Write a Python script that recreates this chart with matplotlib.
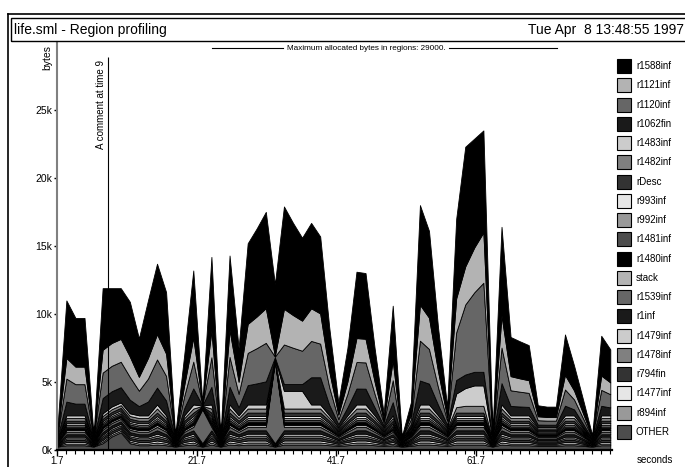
import matplotlib
matplotlib.use("Agg")
import matplotlib.pyplot as plt
from matplotlib.patches import Rectangle
from matplotlib.lines import Line2D

plt.rcParams['font.family'] = ['Liberation Sans', 'DejaVu Sans']

# sample times (seconds)
TIMES = [1.7, 3.0, 4.3, 5.6, 6.9, 8.2, 9.5, 10.8, 12.1, 13.4,
         14.7, 16.0, 17.3, 18.6, 19.9, 21.2, 22.5, 23.8, 25.1, 26.4,
         27.7, 29.0, 30.3, 31.6, 32.9, 34.2, 35.5, 36.8, 38.1, 39.4,
         40.7, 42.0, 43.3, 44.6, 45.9, 47.2, 48.5, 49.8, 51.1, 52.4,
         53.7, 55.0, 56.3, 57.6, 58.9, 60.2, 61.5, 62.8, 64.1, 65.4,
         66.7, 68.0, 69.3, 70.6, 71.9, 73.2, 74.5, 75.8, 77.1, 78.4,
         79.7, 81.0]

# region sizes in kbytes, top of the stack first
r1588inf = [.34, 4.23, 3.58, 3.58, .14, 4.53, 4.03, 3.73, 4.03, 2.83,
            4.23, 5.18, 4.53, .14, 2.23, 4.93, .09, 5.43, .04, 5.48,
            2.48, 5.93, 6.48, 7.08, 5.28, 7.53, 6.78, 6.10, 6.28, 5.66,
            3.23, .91, 2.48, 4.88, 4.83, 2.48, .51, 4.03, .09, .91,
            7.33, 6.38, 3.23, .76, 5.85, 8.80, 8.00, 7.50, .19, 6.53,
            2.88, 2.73, 2.58, .81, .76, .76, 2.98, 1.83, 1.01, .14,
            2.93, 2.43]
r1121inf = [.12, 1.52, 1.29, 1.29, .05, 1.68, 1.68, 1.68, 1.50, 1.02,
            1.52, 1.86, 1.63, .05, .80, 1.77, .03, 1.95, .01, 1.97,
            .89, 2.13, 2.33, 2.55, .05, 2.62, 2.40, 2.21, 2.40, 2.22,
            1.16, .33, .89, 1.76, 1.74, .89, .18, 1.45, .03, .33,
            2.64, 2.30, 1.16, .27, 2.50, 2.80, 3.30, 3.70, .07, 2.35,
            1.04, .98, .93, .29, .27, .27, 1.07, .66, .36, .05,
            1.05, .87]
r1120inf = [.14, 1.69, 1.43, 1.43, .06, 1.87, 1.87, 1.87, 1.67, 1.13,
            1.69, 2.07, 1.81, .06, .89, 1.97, .04, 2.17, .02, 2.19,
            .99, 2.37, 2.59, 2.83, .05, 2.91, 2.67, 2.45, 2.67, 2.47,
            1.29, .36, .99, 1.95, 1.93, .99, .20, 1.61, .04, .36,
            2.93, 2.55, 1.29, .30, 3.50, 5.15, 5.85, 6.55, .08, 2.61,
            1.15, 1.09, 1.03, .32, .30, .30, 1.19, .73, .40, .06,
            1.17, .97]
r1062fin = [.08, 1.01, .86, .86, .03, 1.12, 1.12, 1.12, 1.00, .68,
            1.01, 1.24, 1.09, .03, .53, 1.18, .02, 1.30, .01, 1.31,
            .59, 1.42, 1.55, 1.70, .05, .50, .50, .50, 2.00, 2.00,
            .77, .22, .59, 1.17, 1.16, .59, .12, .97, .02, .22,
            1.76, 1.53, .77, .18, 1.00, 1.00, 1.00, 1.00, .05, 1.57,
            .69, .65, .62, .19, .18, .18, .71, .44, .24, .03,
            .70, .58]
r1483inf = [.03, .20, .20, .20, .03, .20, .20, .20, .20, .20,
            .20, .30, .20, .03, .20, .30, .03, .30, .03, .30,
            .20, .30, .30, .30, .03, 1.30, 1.30, 1.30, .30, .30,
            .20, .10, .20, .30, .30, .20, .10, .20, .03, .10,
            .30, .30, .20, .10, 1.00, 1.30, 1.50, 1.50, .03, .30,
            .20, .20, .20, .10, .10, .10, .20, .20, .10, .03,
            .20, .20]
r1482inf = [.03, .20, .20, .20, .03, .20, .20, .20, .20, .20,
            .20, .30, .20, .03, .20, .30, .03, .30, .03, .30,
            .20, .30, .30, .30, .03, .30, .30, .30, .30, .30,
            .20, .10, .20, .30, .30, .20, .10, .20, .03, .10,
            .30, .30, .20, .10, .40, .50, .50, .50, .03, .30,
            .20, .20, .20, .10, .10, .10, .20, .20, .10, .03,
            .20, .20]
rDesc = [.03, .18, .18, .18, .03, .18, .18, .18, .18, .18,
         .18, .25, .18, .03, .18, .25, .03, .25, .03, .25,
         .18, .25, .25, .25, .03, .25, .25, .25, .25, .25,
         .18, .10, .18, .25, .25, .18, .10, .18, .03, .10,
         .25, .25, .18, .10, .25, .25, .25, .25, .03, .25,
         .18, .18, .18, .10, .10, .10, .18, .18, .10, .03,
         .18, .18]
r993inf = [.03, .12, .12, .12, .03, .12, .12, .12, .12, .12,
           .12, .15, .12, .03, .12, .15, .03, .15, .03, .15,
           .12, .15, .15, .15, .03, .15, .15, .15, .15, .15,
           .12, .08, .12, .15, .15, .12, .08, .12, .03, .08,
           .15, .15, .12, .08, .15, .15, .15, .15, .03, .15,
           .12, .12, .12, .08, .08, .08, .12, .12, .08, .03,
           .12, .12]
r992inf = [.03, .12, .12, .12, .03, .12, .12, .12, .12, .12,
           .12, .15, .12, .03, .12, .15, .03, .15, .03, .15,
           .12, .15, .15, .15, .03, .15, .15, .15, .15, .15,
           .12, .08, .12, .15, .15, .12, .08, .12, .03, .08,
           .15, .15, .12, .08, .15, .15, .15, .15, .03, .15,
           .12, .12, .12, .08, .08, .08, .12, .12, .08, .03,
           .12, .12]
r1481inf = [.04, .12, .12, .12, .04, .12, .12, .12, .12, .12,
            .12, .15, .12, .04, .12, .15, .04, .15, .04, .15,
            .12, .15, .15, .15, .04, .15, .15, .15, .15, .15,
            .12, .08, .12, .15, .15, .12, .08, .12, .04, .08,
            .15, .15, .12, .08, .15, .15, .15, .15, .04, .15,
            .12, .12, .12, .08, .08, .08, .12, .12, .08, .04,
            .12, .12]
r1480inf = [.04, .15, .15, .15, .04, .15, .15, .15, .15, .15,
            .15, .20, .15, .04, .15, .20, .04, .20, .04, .20,
            .15, .20, .20, .20, .04, .20, .20, .20, .20, .20,
            .15, .10, .15, .20, .20, .15, .10, .15, .04, .10,
            .20, .20, .15, .10, .20, .20, .20, .20, .04, .20,
            .15, .15, .15, .10, .10, .10, .15, .15, .10, .04,
            .15, .15]
stack = [.04, .12, .12, .12, .04, .12, .12, .12, .12, .12,
         .12, .15, .12, .04, .12, .15, .04, .15, .04, .15,
         .12, .15, .15, .15, .04, .15, .15, .15, .15, .15,
         .12, .08, .12, .15, .15, .12, .08, .12, .04, .08,
         .15, .15, .12, .08, .15, .15, .15, .15, .04, .15,
         .12, .12, .12, .08, .08, .08, .12, .12, .08, .04,
         .12, .12]
r1539inf = [.05, .18, .18, .18, .05, .18, .18, .18, .18, .18,
            .18, .25, .18, .05, .18, .25, 2.50, .25, .05, .25,
            .18, .25, .25, .25, 6.00, .25, .25, .25, .25, .25,
            .18, .12, .18, .25, .25, .18, .12, .18, .05, .12,
            .25, .25, .18, .12, .25, .25, .25, .25, .05, .25,
            .18, .18, .18, .12, .12, .12, .18, .18, .12, .05,
            .18, .18]
r1inf = [.05, .18, .18, .18, .05, .18, .18, .18, .18, .18,
         .18, .25, .18, .05, .18, .25, .05, .25, .05, .25,
         .18, .25, .25, .25, .05, .25, .25, .25, .25, .25,
         .18, .12, .18, .25, .25, .18, .12, .18, .05, .12,
         .25, .25, .18, .12, .25, .25, .25, .25, .05, .25,
         .18, .18, .18, .12, .12, .12, .18, .18, .12, .05,
         .18, .18]
r1479inf = [.04, .12, .12, .12, .04, .12, .12, .12, .12, .12,
            .12, .15, .12, .04, .12, .15, .04, .15, .04, .15,
            .12, .15, .15, .15, .04, .15, .15, .15, .15, .15,
            .12, .08, .12, .15, .15, .12, .08, .12, .04, .08,
            .15, .15, .12, .08, .15, .15, .15, .15, .04, .15,
            .12, .12, .12, .08, .08, .08, .12, .12, .08, .04,
            .12, .12]
r1478inf = [.04, .12, .12, .12, .04, .12, .12, .12, .12, .12,
            .12, .15, .12, .04, .12, .15, .04, .15, .04, .15,
            .12, .15, .15, .15, .04, .15, .15, .15, .15, .15,
            .12, .08, .12, .15, .15, .12, .08, .12, .04, .08,
            .15, .15, .12, .08, .15, .15, .15, .15, .04, .15,
            .12, .12, .12, .08, .08, .08, .12, .12, .08, .04,
            .12, .12]
r794fin = [.04, .15, .15, .15, .04, .15, .15, .15, .15, .15,
           .15, .20, .15, .04, .15, .20, .04, .20, .04, .20,
           .15, .20, .20, .20, .04, .20, .20, .20, .20, .20,
           .15, .10, .15, .20, .20, .15, .10, .15, .04, .10,
           .20, .20, .15, .10, .20, .20, .20, .20, .04, .20,
           .15, .15, .15, .10, .10, .10, .15, .15, .10, .04,
           .15, .15]
r1477inf = [.04, .12, .12, .12, .04, .12, .12, .12, .12, .12,
            .12, .15, .12, .04, .12, .15, .04, .15, .04, .15,
            .12, .15, .15, .15, .04, .15, .15, .15, .15, .15,
            .12, .08, .12, .15, .15, .12, .08, .12, .04, .08,
            .15, .15, .12, .08, .15, .15, .15, .15, .04, .15,
            .12, .12, .12, .08, .08, .08, .12, .12, .08, .04,
            .12, .12]
r894inf = [.04, .12, .12, .12, .04, .12, .12, .12, .12, .12,
           .12, .15, .12, .04, .12, .15, .04, .15, .04, .15,
           .12, .15, .15, .15, .04, .15, .15, .15, .15, .15,
           .12, .08, .12, .15, .15, .12, .08, .12, .04, .08,
           .15, .15, .12, .08, .15, .15, .15, .15, .04, .15,
           .12, .12, .12, .08, .08, .08, .12, .12, .08, .04,
           .12, .12]
OTHER = [.25, .35, .35, .35, .25, .50, 1.00, 1.30, .50, .35,
         .35, .40, .35, .25, .35, .40, .25, .40, .25, .40,
         .35, .40, .40, .40, .25, .40, .40, .40, .40, .40,
         .35, .30, .35, .40, .40, .35, .30, .35, .25, .30,
         .40, .40, .35, .30, .40, .40, .40, .40, .25, .40,
         .35, .35, .35, .30, .30, .30, .35, .35, .30, .25,
         .35, .35]

NAMES = ['r1588inf', 'r1121inf', 'r1120inf', 'r1062fin', 'r1483inf', 'r1482inf',
         'rDesc', 'r993inf', 'r992inf', 'r1481inf', 'r1480inf', 'stack',
         'r1539inf', 'r1inf', 'r1479inf', 'r1478inf', 'r794fin', 'r1477inf',
         'r894inf', 'OTHER']
SERIES = [r1588inf, r1121inf, r1120inf, r1062fin, r1483inf, r1482inf,
          rDesc, r993inf, r992inf, r1481inf, r1480inf, stack,
          r1539inf, r1inf, r1479inf, r1478inf, r794fin, r1477inf,
          r894inf, OTHER]
# rp2ps style grey cycle
GREYS = ['0.0', '0.7', '0.4', '0.1', '0.8', '0.5', '0.2', '0.9', '0.6', '0.3']
XTICKS = [1.7, 21.7, 41.7, 61.7]
YTICKS = [0, 5000, 10000, 15000, 20000, 25000]
YLABELS = ['0k', '5k', '10k', '15k', '20k', '25k']
COMMENT_T = 9

W, H = 685, 467


def fx(px):
    return px / W


def fy(py):
    return 1 - py / H


fig = plt.figure(figsize=(W / 100, H / 100), dpi=100)

ax = fig.add_axes([fx(57.3), fy(450), fx(611.7) - fx(57.3), fy(42) - fy(450)])
colors = [GREYS[i % 10] for i in range(len(NAMES))]
vals = [[v * 1000 for v in s] for s in SERIES]
# stackplot puts first series at the bottom
ax.stackplot(TIMES, *vals[::-1], colors=colors[::-1], edgecolor='black', linewidth=0.6)

ax.set_xlim(1.7, 81.2)
ax.set_ylim(0, 30000)
for s in ['top', 'right']:
    ax.spines[s].set_visible(False)
ax.spines['left'].set_color('#808080')
ax.spines['left'].set_linewidth(1.5)
ax.spines['bottom'].set_linewidth(1.6)
ax.set_xticks(XTICKS)
ax.set_xticklabels([str(t) for t in XTICKS])
ax.set_xticks(TIMES, minor=True)
ax.set_yticks(YTICKS)
ax.set_yticklabels(YLABELS)
ax.tick_params(axis='x', which='major', length=4, width=1, labelsize=7, pad=0.5)
ax.tick_params(axis='x', which='minor', length=3, width=0.8)
ax.tick_params(axis='y', length=2.5, width=1, labelsize=7.5, pad=1)

ax.vlines(COMMENT_T, 0, 28900, color='black', lw=0.8)
ax.annotate('A comment at time 9', xy=(COMMENT_T, 28700), xytext=(-1.5, 0),
            textcoords='offset points', rotation=90, ha='right', va='top', fontsize=7)

# frame and header
fig.add_artist(Line2D([fx(8), fx(8)], [fy(14), fy(470)], color='black', lw=1.2))
fig.add_artist(Line2D([fx(8), fx(690)], [fy(14), fy(14)], color='black', lw=1.2))
fig.add_artist(Rectangle((fx(11), fy(41)), fx(690) - fx(11), fy(18) - fy(41),
                         fill=False, edgecolor='black', lw=1.0))
fig.text(fx(14), fy(30), 'life.sml - Region profiling', fontsize=10, va='center')
fig.text(fx(684), fy(30), 'Tue Apr  8 13:48:55 1997', fontsize=10, va='center', ha='right')

fig.text(fx(366), fy(49), 'Maximum allocated bytes in regions: 29000.', fontsize=5.9,
         ha='center', va='center')
fig.add_artist(Line2D([fx(212), fx(283)], [fy(48), fy(48)], color='black', lw=0.8))
fig.add_artist(Line2D([fx(449), fx(557)], [fy(48), fy(48)], color='black', lw=0.8))

fig.text(fx(47), fy(57), 'bytes', fontsize=7.5, rotation=90, ha='center', va='center')
fig.text(fx(655), fy(460), 'seconds', fontsize=7, ha='center', va='center')

# legend
for i, (name, col) in enumerate(zip(NAMES, colors)):
    yc = 66 + 19.26 * i
    fig.add_artist(Rectangle((fx(617), fy(yc + 7)), fx(631) - fx(617), fy(yc - 7) - fy(yc + 7),
                             facecolor=col, edgecolor='black', lw=0.8))
    fig.text(fx(636), fy(yc), name, fontsize=7, va='center')

fig.savefig('out.png', dpi=100)
